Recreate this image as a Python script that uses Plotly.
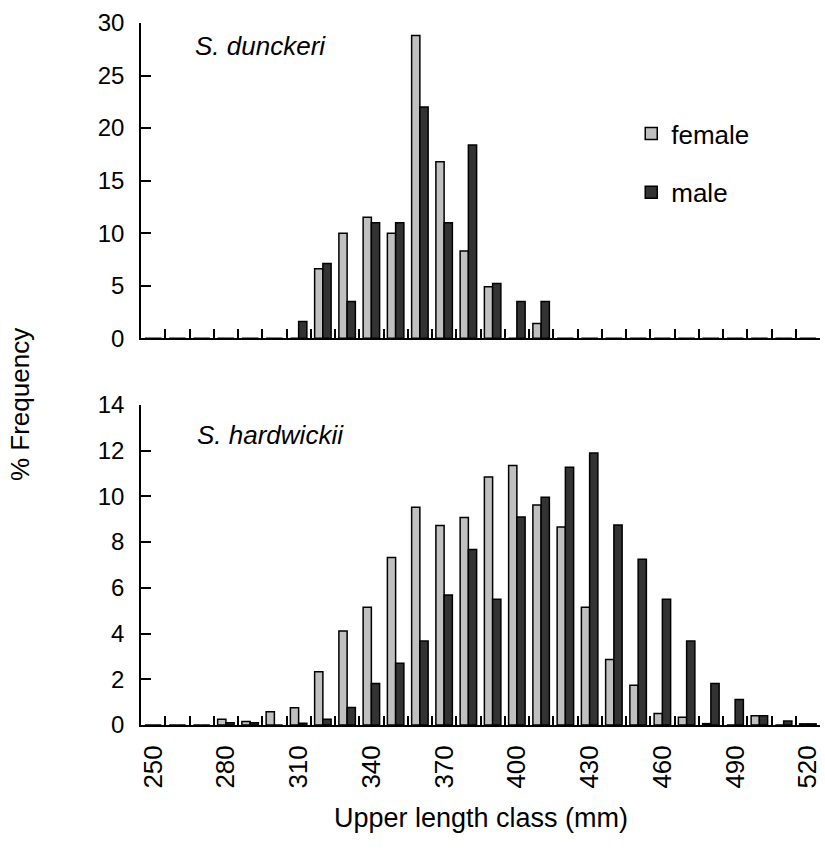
import plotly.graph_objects as go
from plotly.subplots import make_subplots

length_class = list(range(250, 530, 10))

# S. dunckeri (% frequency)
dunckeri_female = [0, 0, 0, 0, 0, 0, 0, 6.6, 10.0, 11.5, 10.0, 28.8, 16.8, 8.3,
                   4.9, 0, 1.4, 0, 0, 0, 0, 0, 0, 0, 0, 0, 0, 0]
dunckeri_male = [0, 0, 0, 0, 0, 0, 1.6, 7.1, 3.5, 11.0, 11.0, 22.0, 11.0, 18.4,
                 5.2, 3.5, 3.5, 0, 0, 0, 0, 0, 0, 0, 0, 0, 0, 0]

# S. hardwickii (% frequency)
hardwickii_female = [0, 0, 0, 0.25, 0.15, 0.58, 0.75, 2.33, 4.11, 5.15, 7.33, 9.52, 8.73, 9.08,
                     10.85, 11.35, 9.62, 8.66, 5.15, 2.87, 1.74, 0.5, 0.34, 0.06, 0, 0.4, 0, 0.05]
hardwickii_male = [0, 0, 0, 0.1, 0.1, 0, 0.08, 0.25, 0.77, 1.82, 2.7, 3.67, 5.69, 7.68,
                   5.5, 9.1, 9.96, 11.27, 11.9, 8.75, 7.25, 5.5, 3.67, 1.82, 1.12, 0.4, 0.17, 0.05]

tick_labels = [250, 280, 310, 340, 370, 400, 430, 460, 490, 520]

FEMALE = "#c0c0c0"
MALE = "#333333"
FONT = "Arial, Liberation Sans, sans-serif"
X_RANGE = [245, 525]

fig = make_subplots(rows=2, cols=1, shared_xaxes=False, vertical_spacing=0.095)

def add_pair(f, m, row, show):
    fig.add_trace(go.Bar(x=length_class, y=f, name="female", marker=dict(color=FEMALE, line=dict(color="black", width=1.5)),
                         showlegend=show, legendgroup="f"), row=row, col=1)
    fig.add_trace(go.Bar(x=length_class, y=m, name="male", marker=dict(color=MALE, line=dict(color="black", width=1.5)),
                         showlegend=show, legendgroup="m"), row=row, col=1)

add_pair(dunckeri_female, dunckeri_male, 1, True)
add_pair(hardwickii_female, hardwickii_male, 2, False)

# empty trace so the label axis (x3, overlaid on the lower panel) is drawn
fig.add_trace(go.Scatter(x=tick_labels, y=[None] * len(tick_labels), xaxis="x3", yaxis="y2",
                         mode="markers", showlegend=False, hoverinfo="skip"))

# class-boundary tick marks (pointing up into the plot)
fig.update_xaxes(range=X_RANGE, showline=True, linecolor="black", linewidth=1.5,
                 tickmode="linear", tick0=245, dtick=10, ticks="inside", ticklen=9,
                 tickcolor="black", tickwidth=1.5, showticklabels=False,
                 showgrid=False, zeroline=False)

fig.update_yaxes(row=1, col=1, range=[0, 30], dtick=5, tick0=0, domain=[0.551, 1.0])
fig.update_yaxes(row=2, col=1, range=[0, 14], dtick=2, tick0=0, domain=[0.0, 0.456])
fig.update_yaxes(showline=True, linecolor="black", linewidth=1.5, ticks="inside", ticklen=10,
                 tickcolor="black", tickwidth=1.5, showgrid=False, zeroline=False,
                 tickfont=dict(family=FONT, size=24, color="black"), ticklabelstandoff=10)

fig.update_layout(
    width=825, height=857,
    margin=dict(l=141, r=3, t=23, b=132),
    paper_bgcolor="white", plot_bgcolor="white",
    barmode="group", bargap=0.32, bargroupgap=0,
    font=dict(family=FONT, size=24, color="black"),
    # label axis overlaid on the lower panel: class labels centred on the classes
    xaxis3=dict(overlaying="x2", anchor="y2", side="bottom", range=X_RANGE,
                tickmode="array", tickvals=tick_labels, ticks="", showline=False,
                showgrid=False, zeroline=False, tickangle=-90, showticklabels=True,
                tickfont=dict(family=FONT, size=26, color="black"), ticklabelstandoff=14),
    legend=dict(x=0.722, y=0.876, xanchor="left", yanchor="top", tracegroupgap=22,
                font=dict(family=FONT, size=26, color="black"), bgcolor="rgba(0,0,0,0)"),
    annotations=[
        dict(text="<i>S. dunckeri</i>", x=0.077, y=0.9667, xref="paper", yref="paper",
             xanchor="left", yanchor="middle", showarrow=False, font=dict(family=FONT, size=26)),
        dict(text="<i>S. hardwickii</i>", x=0.080, y=0.4133, xref="paper", yref="paper",
             xanchor="left", yanchor="middle", showarrow=False, font=dict(family=FONT, size=26)),
        dict(text="% Frequency", x=-0.178, y=0.456, xref="paper", yref="paper", textangle=-90,
             xanchor="center", yanchor="middle", showarrow=False, font=dict(family=FONT, size=26)),
        dict(text="Upper length class (mm)", x=0.5, y=-0.132, xref="paper", yref="paper",
             xanchor="center", yanchor="middle", showarrow=False, font=dict(family=FONT, size=27)),
    ],
)

fig.write_html("out.html")
